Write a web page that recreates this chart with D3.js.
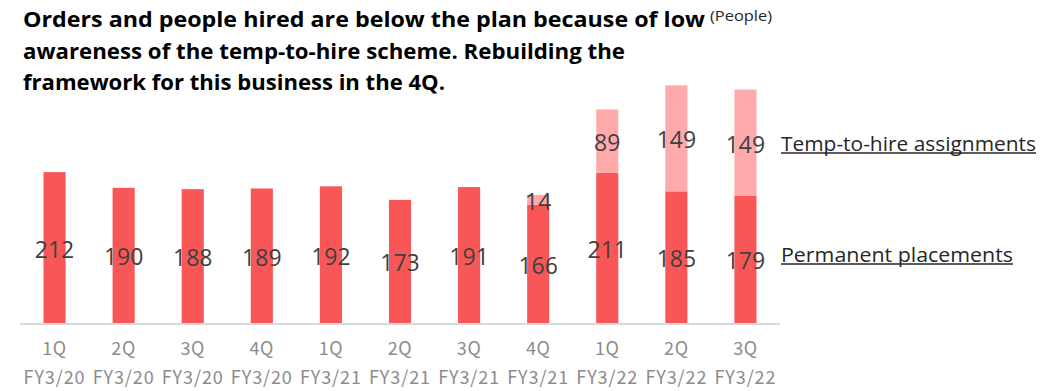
<!DOCTYPE html>
<html><head><meta charset="utf-8">
<script src="https://cdn.jsdelivr.net/npm/d3@7"></script>
<style>html,body{margin:0;padding:0;background:#fff;}</style>
</head><body>
<svg id="chart" width="1064" height="391"></svg>
<script>
const quarters = ["1Q","2Q","3Q","4Q","1Q","2Q","3Q","4Q","1Q","2Q","3Q"];
const fiscalYears = ["FY3/20","FY3/20","FY3/20","FY3/20","FY3/21","FY3/21","FY3/21","FY3/21","FY3/22","FY3/22","FY3/22"];
const permanentPlacements = [212,190,188,189,192,173,191,166,211,185,179];
const tempToHire = [null,null,null,null,null,null,null,14,89,149,149];
const titleLines = [
  "Orders and people hired are below the plan because of low",
  "awareness of the temp-to-hire scheme. Rebuilding the",
  "framework for this business in the 4Q."
];
const unitLabel = "(People)";
const seriesNames = ["Permanent  placements","Temp-to-hire assignments"];

const svg = d3.select("#chart");
const idx = d3.range(quarters.length);
const x = d3.scaleBand().domain(idx).range([20,780]).paddingInner(0.68).paddingOuter(0.34);
const y = d3.scaleLinear().domain([0,340]).range([323,81]);
const colPerm = "#F95757", colTemp = "#FFAAAA";

// title
const tLens = [682, 602, 422];
const tBase = [27, 59, 90];
titleLines.forEach((t,i)=>{
  svg.append("text").attr("x",23).attr("y",tBase[i])
    .attr("font-family","'Open Sans', sans-serif").attr("font-weight","bold")
    .attr("font-size",21).attr("fill","#000")
    .attr("textLength",tLens[i]).attr("lengthAdjust","spacingAndGlyphs").text(t);
});
svg.append("text").attr("x",710).attr("y",21)
  .attr("font-family","'Open Sans', sans-serif").attr("font-size",15).attr("fill","#262626")
  .attr("textLength",62).attr("lengthAdjust","spacingAndGlyphs").text(unitLabel);

// axis line
svg.append("line").attr("x1",20).attr("x2",780).attr("y1",y(0)+1).attr("y2",y(0)+1)
  .attr("stroke","#d9d9d9").attr("stroke-width",2);

// bars
const g = svg.append("g");
g.selectAll("rect.perm").data(idx).join("rect").attr("class","perm")
  .attr("x",i=>x(i)).attr("width",x.bandwidth())
  .attr("y",i=>y(permanentPlacements[i])).attr("height",i=>y(0)-y(permanentPlacements[i]))
  .attr("fill",colPerm);
const tIdx = idx.filter(i=>tempToHire[i]!=null);
g.selectAll("rect.temp").data(tIdx).join("rect").attr("class","temp")
  .attr("x",i=>x(i)).attr("width",x.bandwidth())
  .attr("y",i=>y(permanentPlacements[i]+tempToHire[i]))
  .attr("height",i=>y(permanentPlacements[i])-y(permanentPlacements[i]+tempToHire[i]))
  .attr("fill",colTemp);

// value labels
const lab = (sel)=>sel.attr("text-anchor","middle").attr("dominant-baseline","central")
  .attr("font-family","'Open Sans', sans-serif").attr("font-size",23).attr("fill","#404040");
g.selectAll("text.pl").data(idx).join("text").attr("class","pl")
  .attr("x",i=>x(i)+x.bandwidth()/2)
  .attr("y",i=>(y(0)+y(permanentPlacements[i]))/2+1)
  .call(lab).text(i=>permanentPlacements[i]);
g.selectAll("text.tl").data(tIdx).join("text").attr("class","tl")
  .attr("x",i=>x(i)+x.bandwidth()/2)
  .attr("y",i=>(y(permanentPlacements[i])+y(permanentPlacements[i]+tempToHire[i]))/2+1)
  .call(lab).text(i=>tempToHire[i]);

// x axis labels
const xf = "'Noto Sans CJK JP', 'Noto Sans', sans-serif";
g.selectAll("text.q").data(idx).join("text").attr("class","q")
  .attr("x",i=>x(i)+x.bandwidth()/2).attr("y",355).attr("text-anchor","middle")
  .attr("font-family",xf).attr("font-size",18).attr("letter-spacing",0.6).attr("fill","#8c8c8c").text(i=>quarters[i]);
g.selectAll("text.fy").data(idx).join("text").attr("class","fy")
  .attr("x",i=>x(i)+x.bandwidth()/2).attr("y",384).attr("text-anchor","middle")
  .attr("font-family",xf).attr("font-size",18).attr("letter-spacing",0.9).attr("fill","#8c8c8c").text(i=>fiscalYears[i]);

// legend labels
const legY = [262, 151];
const legW = [232, 255];
seriesNames.forEach((n,i)=>{
  svg.append("text").attr("x",781).attr("y",legY[i])
    .attr("font-family","'Open Sans', sans-serif").attr("font-size",19.5).attr("fill","#262626")
    .attr("textLength",legW[i]).attr("lengthAdjust","spacingAndGlyphs").text(n);
  svg.append("line").attr("x1",781).attr("x2",781+legW[i]).attr("y1",legY[i]+2).attr("y2",legY[i]+2)
    .attr("stroke","#262626").attr("stroke-width",1.3);
});
</script>
</body></html>
